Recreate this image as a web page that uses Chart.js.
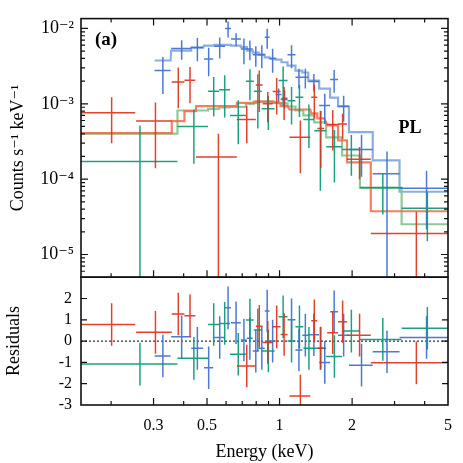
<!DOCTYPE html>
<html>
<head>
<meta charset="utf-8">
<script src="https://cdn.jsdelivr.net/npm/chart.js@4.4.1/dist/chart.umd.min.js"></script>
<style>
  html, body { margin: 0; padding: 0; background: #fff; }
  #wrap { width: 463px; height: 463px; }
</style>
</head>
<body>
<div id="wrap"><canvas id="spec" width="463" height="463"></canvas></div>
<script>
// Spectrum (a): three data sets, PL model, residuals
// bins in keV (lo / hi edges), counts s^-1 keV^-1, residuals in sigma

const blueLo = [0.303, 0.355, 0.430, 0.486, 0.535, 0.594, 0.629, 0.691, 0.732, 0.774, 0.820, 0.868, 0.909, 0.963, 1.019, 1.079, 1.164, 1.243, 1.316, 1.460, 1.621, 1.749, 1.941, 2.436, 3.147];
const blueHi = [0.353, 0.430, 0.482, 0.530, 0.594, 0.629, 0.691, 0.732, 0.774, 0.820, 0.868, 0.909, 0.963, 1.019, 1.079, 1.164, 1.243, 1.316, 1.460, 1.621, 1.749, 1.941, 2.436, 3.147, 5.0];
const blueFlux = [2.76e-3, 5.40e-3, 5.57e-3, 3.94e-3, 5.79e-3, 1.00e-2, 7.26e-3, 5.35e-3, 5.35e-3, 4.46e-3, 4.46e-3, 7.63e-3, 3.98e-3, 1.33e-3, 1.18e-3, 4.46e-3, 2.25e-3, 2.25e-3, 1.97e-3, 9.5e-4, 2.10e-3, 9.3e-4, 2.48e-4, 1.18e-4, 7.55e-5];
const blueErr = [1.41e-3, 1.57e-3, 1.9e-3, 1.62e-3, 1.79e-3, 2.4e-3, 1.4e-3, 2.0e-3, 1.57e-3, 1.36e-3, 1.5e-3, 2.25e-3, 1.39e-3, 2.7e-4, 3.2e-4, 1.5e-3, 6.6e-4, 6.6e-4, 5.1e-4, 4.1e-4, 7e-4, 3.5e-4, 1.4e-4, 1.15e-4, 5.4e-5];
const blueModel = [3.75e-3, 5.09e-3, 5.57e-3, 5.9e-3, 6.04e-3, 6.04e-3, 5.9e-3, 5.63e-3, 5.09e-3, 4.77e-3, 4.5e-3, 4.14e-3, 3.98e-3, 3.86e-3, 3.56e-3, 3.21e-3, 2.76e-3, 2.60e-3, 2.03e-3, 1.59e-3, 1.21e-3, 9.21e-4, 4.21e-4, 1.77e-4, 6.8e-5];
const blueResid = [-0.70, 0.20, -0.34, -1.25, 0.17, 1.56, 0.86, 0.05, 0.13, -0.47, -0.34, 1.41, 0.0, null, null, 1.0, -0.42, 0.28, 0.30, -1.0, 1.38, 0.28, -1.13, -0.50, 0.17];

const redLo = [0.150, 0.254, 0.357, 0.403, 0.450, 0.665, 0.797, 0.851, 0.936, 1.010, 1.099, 1.354, 1.434, 1.576, 1.749, 1.905, 2.391];
const redHi = [0.252, 0.357, 0.403, 0.447, 0.665, 0.797, 0.851, 0.936, 1.010, 1.079, 1.341, 1.434, 1.532, 1.749, 1.905, 2.391, 5.0];
const redFlux = [7.6e-4, 5.9e-4, 1.95e-3, 2.05e-3, 1.96e-4, 6.2e-4, 1.77e-3, 1.0e-3, 1.46e-3, 1.14e-3, 3.6e-4, 1.22e-3, 4.7e-4, 5.3e-4, 5.4e-4, 1.84e-4, 1.9e-5];
const redErr = [4.6e-4, 4.5e-4, 1.08e-3, 1.03e-3, 2.05e-4, 3.2e-4, 9.9e-4, 4.3e-4, 7.4e-4, 5.3e-4, 2.4e-4, 5.8e-4, 3.3e-4, 2.9e-4, 2.0e-4, 8.4e-5, 1.8e-5];
const redModel = [4.08e-4, 4.08e-4, 5.88e-4, 7.98e-4, 9.29e-4, 1.03e-3, 1.07e-3, 1.07e-3, 1.03e-3, 9.29e-4, 8.4e-4, 7.44e-4, 6.39e-4, 5.16e-4, 3.27e-4, 1.67e-4, 3.75e-5];
const redResid = [0.78, 0.41, 1.27, 1.19, null, -1.17, 0.70, -0.06, 0.67, 0.31, -2.58, 0.95, -0.33, 0.39, 0.91, 0.28, -1.02];

const greenLo = [0.150, 0.377, 0.505, 0.561, 0.623, 0.725, 0.782, 0.843, 0.991, 1.079, 1.164, 1.255, 1.393, 1.561, 1.817, 2.155, 3.21];
const greenHi = [0.377, 0.505, 0.561, 0.623, 0.725, 0.782, 0.843, 0.954, 1.079, 1.164, 1.255, 1.393, 1.561, 1.817, 2.155, 3.21, 5.0];
const greenFlux = [1.72e-4, 5.0e-4, 1.47e-3, 1.53e-3, 7.0e-4, 1.99e-3, 1.47e-3, 8.6e-4, 2.03e-3, 1.1e-3, 1.22e-3, 6.2e-4, 4.4e-4, 2.7e-4, 2.48e-4, 7.7e-5, 4.1e-5];
const greenErr = [3.44e-4, 3.4e-4, 7.9e-4, 8.7e-4, 4.1e-4, 8.8e-4, 1.0e-3, 4.1e-4, 1.1e-3, 5.7e-4, 5.5e-4, 3.6e-4, 3.7e-4, 1.8e-4, 1.37e-4, 4.3e-5, 2.6e-5];
const greenModel = [4.01e-4, 8.15e-4, 8.58e-4, 8.93e-4, 9.07e-4, 9.94e-4, 1.07e-3, 1.07e-3, 1.01e-3, 9.21e-4, 8.15e-4, 7.0e-4, 5.65e-4, 3.58e-4, 2.06e-4, 7.72e-5, 2.52e-5];
const greenResid = [-1.08, -0.81, 0.78, 0.83, -0.62, 0.99, 0.52, -0.46, 1.14, 0.0, 0.67, -0.34, -0.34, -0.72, 0.47, 0.08, 0.60];

const residErr = 1; // residual bars are +-1 sigma

// axes
const xMin = 0.15, xMax = 5;
const yMin = 5e-6, yMax = 1.35e-2;
const xLabelTicks = [0.3, 0.5, 1, 2, 5];
const xLabelText = ['0.3', '0.5', '1', '2', '5'];
const xMinorTicks = [0.2, 0.4, 0.6, 0.7, 0.8, 0.9, 3, 4];
const yTopTicks = [1e-5, 1e-4, 1e-3, 1e-2];
const yTopLabels = ['10\u207B\u2075', '10\u207B\u2074', '10\u207B\u00B3', '10\u207B\u00B2'];
const resTicks = [-3, -2, -1, 0, 1, 2];
const resLabels = ['-3', '-2', '-1', '0', '1', '2'];

const serif = '"Liberation Serif", "Times New Roman", "DejaVu Serif", serif';

// minor log ticks for the top panel (2..9 x decade)
const yTopMinor = [];
[1e-6, 1e-5, 1e-4, 1e-3].forEach(d => {
    for (let m = 2; m <= 9; m++) {
        const v = m * d;
        if (v > yMin && v < yMax) yTopMinor.push(v);
    }
});

// crosses: horizontal bin width + vertical error, null breaks the line
function crosses(lo, hi, val, err) {
    const pts = [];
    for (let i = 0; i < lo.length; i++) {
        if (val[i] === null) continue;
        const e = (lo[i] + hi[i]) / 2;
        const e2 = Array.isArray(err) ? err[i] : err;
        const low = val[i] - e2 > 0 ? val[i] - e2 : 1e-9;
        pts.push({ x: lo[i], y: val[i] }, { x: hi[i], y: val[i] }, { x: e, y: null });
        pts.push({ x: e, y: low }, { x: e, y: val[i] + e2 }, { x: e, y: null });
    }
    return pts;
}
function residCrosses(lo, hi, val) {
    const pts = [];
    for (let i = 0; i < lo.length; i++) {
        if (val[i] === null) continue;
        const e = (lo[i] + hi[i]) / 2;
        pts.push({ x: lo[i], y: val[i] }, { x: hi[i], y: val[i] }, { x: e, y: null });
        pts.push({ x: e, y: val[i] - residErr }, { x: e, y: val[i] + residErr }, { x: e, y: null });
    }
    return pts;
}
// step model: flat over each bin, joined at the edges
function steps(lo, hi, model) {
    const pts = [];
    for (let i = 0; i < lo.length; i++) {
        pts.push({ x: lo[i], y: model[i] }, { x: hi[i], y: model[i] });
    }
    return pts;
}

const series = [
    { lo: redLo, hi: redHi, flux: redFlux, err: redErr, model: redModel, resid: redResid, col: 'rgba(224,50,28,0.92)', mcol: 'rgba(244,104,70,0.85)' },
    { lo: greenLo, hi: greenHi, flux: greenFlux, err: greenErr, model: greenModel, resid: greenResid, col: 'rgba(10,152,118,0.92)', mcol: 'rgba(128,197,140,0.9)' },
    { lo: blueLo, hi: blueHi, flux: blueFlux, err: blueErr, model: blueModel, resid: blueResid, col: 'rgba(62,110,206,0.92)', mcol: 'rgba(118,160,222,0.85)' }
];

const datasets = [];
series.forEach(s => {
    datasets.push({ data: steps(s.lo, s.hi, s.model), yAxisID: 'y', borderColor: s.mcol, borderWidth: 2.2, order: 3 });
    datasets.push({ data: crosses(s.lo, s.hi, s.flux, s.err), yAxisID: 'y', borderColor: s.col, borderWidth: 1.5, order: 1 });
    datasets.push({ data: residCrosses(s.lo, s.hi, s.resid), yAxisID: 'yr', borderColor: s.col, borderWidth: 1.5, order: 1 });
});
datasets.forEach(d => {
    d.showLine = true;
    d.pointRadius = 0;
    d.spanGaps = false;
    d.clip = 0;
});

// frames, inward ticks, zero line, panel labels
const frameTicks = {
    id: 'frameTicks',
    beforeDatasetsDraw(chart) {
        const { ctx, scales: { x, yr } } = chart;
        const y0 = yr.getPixelForValue(0);
        ctx.save();
        ctx.strokeStyle = '#000';
        ctx.lineWidth = 1;
        ctx.setLineDash([2, 2]);
        ctx.beginPath();
        ctx.moveTo(x.left, y0);
        ctx.lineTo(x.right, y0);
        ctx.stroke();
        ctx.restore();
    },
    afterDatasetsDraw(chart) {
        const { ctx, scales: { x, y, yr } } = chart;
        const L = x.left, R = x.right;
        ctx.save();
        ctx.strokeStyle = '#111';
        ctx.lineWidth = 1.2;
        ctx.beginPath();
        function xt(vals, edge, dir, len) {
            vals.forEach(v => {
                const p = x.getPixelForValue(v);
                if (p <= L + 1 || p >= R - 1) return;
                ctx.moveTo(p, edge); ctx.lineTo(p, edge + dir * len);
            });
        }
        function yt(scale, vals, len) {
            vals.forEach(v => {
                const p = scale.getPixelForValue(v);
                if (p <= scale.top + 1 || p >= scale.bottom - 1) return;
                ctx.moveTo(L, p); ctx.lineTo(L + len, p);
                ctx.moveTo(R, p); ctx.lineTo(R - len, p);
            });
        }
        xt(xLabelTicks, y.top, 1, 7); xt(xMinorTicks, y.top, 1, 4);
        xt(xLabelTicks, y.bottom, -1, 7); xt(xMinorTicks, y.bottom, -1, 4);
        xt(xLabelTicks, yr.bottom, -1, 7); xt(xMinorTicks, yr.bottom, -1, 4);
        yt(y, yTopTicks, 7); yt(y, yTopMinor, 4);
        yt(yr, resTicks, 6);
        ctx.stroke();

        ctx.lineWidth = 1.6;
        ctx.strokeRect(L, y.top, R - L, y.bottom - y.top);
        ctx.strokeRect(L, yr.top, R - L, yr.bottom - yr.top);

        ctx.fillStyle = '#000';
        ctx.textBaseline = 'middle';
        ctx.textAlign = 'left';
        ctx.font = 'bold 19px ' + serif;
        ctx.fillText('(a)', L + 14, y.top + 21);
        ctx.textAlign = 'center';
        ctx.font = 'bold 18px ' + serif;
        ctx.fillText('PL', 410, 128);
        ctx.restore();
    }
};

const tickFont = size => ({ family: serif, size: size });

new Chart(document.getElementById('spec'), {
    type: 'scatter',
    data: { datasets: datasets },
    options: {
        responsive: false,
        animation: false,
        devicePixelRatio: 1,
        layout: { padding: { left: 0, right: 12, top: 18, bottom: 0 } },
        plugins: { legend: { display: false }, tooltip: { enabled: false } },
        elements: { line: { tension: 0 }, point: { radius: 0 } },
        scales: {
            x: {
                type: 'logarithmic', position: 'bottom', min: xMin, max: xMax, bounds: 'data',
                grid: { display: false, drawTicks: false }, border: { display: false },
                afterBuildTicks: s => { s.ticks = xLabelTicks.map(v => ({ value: v })); },
                afterFit: s => { s.height = 58; },
                ticks: { autoSkip: false, maxRotation: 0, padding: 11, color: '#000', font: tickFont(16), callback: (v, i) => xLabelText[i] },
                title: { display: true, text: 'Energy (keV)', color: '#000', font: tickFont(18), padding: { top: 0, bottom: 0 } }
            },
            yr: {
                type: 'linear', position: 'left', stack: 'panels', stackWeight: 128, min: -3, max: 3, bounds: 'data',
                grid: { display: false, drawTicks: false }, border: { display: false },
                afterBuildTicks: s => { s.ticks = resTicks.map(v => ({ value: v })); },
                afterFit: s => { s.width = 81; },
                ticks: { autoSkip: false, padding: 9, color: '#000', font: tickFont(16), callback: (v, i) => resLabels[i] },
                title: { display: true, text: 'Residuals', color: '#000', font: tickFont(18), padding: { top: 3, bottom: 0 } }
            },
            y: {
                type: 'logarithmic', position: 'left', stack: 'panels', stackWeight: 259, min: yMin, max: yMax, bounds: 'data',
                grid: { display: false, drawTicks: false }, border: { display: false },
                afterBuildTicks: s => { s.ticks = yTopTicks.map(v => ({ value: v })); },
                afterFit: s => { s.width = 81; },
                ticks: { autoSkip: false, padding: 7, color: '#000', font: tickFont(18), callback: (v, i) => yTopLabels[i] },
                title: { display: true, text: 'Counts s\u207B\u00B9 keV\u207B\u00B9', color: '#000', font: tickFont(18), padding: { top: 7, bottom: 0 } }
            }
        }
    },
    plugins: [frameTicks]
});
</script>
</body>
</html>
